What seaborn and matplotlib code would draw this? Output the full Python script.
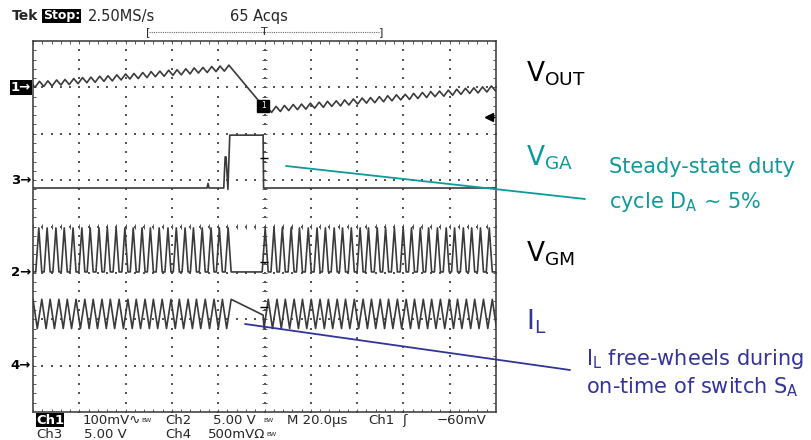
import numpy as np
import pandas as pd
import matplotlib
matplotlib.use("Agg")
import matplotlib.pyplot as plt
from matplotlib.lines import Line2D
import seaborn as sns

# ═══════════════════════════════════════════════════════════════
#  DATA  (time in divisions, 20 us/div; level in divisions, 0..8)
# ═══════════════════════════════════════════════════════════════
IL_PEAKS_A = [0.00, 0.19, 0.37, 0.56, 0.74, 0.93, 1.12, 1.30, 1.49, 1.67,
              1.86, 2.05, 2.23, 2.42, 2.60, 2.79, 2.98, 3.16, 3.35, 3.53,
              3.72, 3.91, 4.09, 4.28]
IL_PEAKS_B = [5.08, 5.27, 5.45, 5.64, 5.82, 6.01, 6.20, 6.38, 6.57, 6.75,
              6.94, 7.13, 7.31, 7.50, 7.68, 7.87, 8.06, 8.24, 8.43, 8.61,
              8.80, 8.99, 9.17, 9.36, 9.54, 9.73, 9.92]
IL_HI, IL_LO = 2.43, 1.80
IL_FREEWHEEL_T = [4.97, 4.99]
IL_FREEWHEEL_V = [2.09, 1.80]

VGM_HI, VGM_LO = 3.97, 3.02

VOUT_PEAKS_A = [7.11, 7.13, 7.14, 7.16, 7.17, 7.19, 7.21, 7.22, 7.24, 7.25,
                7.27, 7.29, 7.30, 7.32, 7.34, 7.35, 7.37, 7.38, 7.40, 7.42,
                7.43, 7.45, 7.46, 7.48]
VOUT_PEAKS_B = [6.57, 6.59, 6.61, 6.63, 6.64, 6.66, 6.68, 6.70, 6.71, 6.73,
                6.75, 6.77, 6.78, 6.80, 6.82, 6.84, 6.85, 6.87, 6.89, 6.91,
                6.92, 6.94, 6.96, 6.98, 6.99, 7.01, 7.03]
VOUT_RIPPLE = 0.11
VOUT_DROP_T = [4.95, 5.00]
VOUT_DROP_V = [6.62, 6.47]

VGA_T = [0.00, 3.76, 3.78, 3.80, 4.12, 4.15, 4.17, 4.21, 4.25, 4.97, 4.98, 10.0]
VGA_V = [4.83, 4.83, 4.93, 4.83, 4.83, 5.50, 5.50, 4.80, 5.97, 5.97, 4.83, 4.83]

CH_REF = {"1": 7.0, "3": 5.0, "2": 3.0, "4": 1.0}

TEAL = "#0f9a9a"
NAVY = "#33339a"
TRACE = "#3a3a3a"


def build_il():
    t, v = [], []
    for p in IL_PEAKS_A:
        t += [p, p + 0.093]
        v += [IL_HI, IL_LO]
    t, v = t[:-1], v[:-1]
    t += IL_FREEWHEEL_T
    v += IL_FREEWHEEL_V
    for p in IL_PEAKS_B:
        t += [p, p + 0.093]
        v += [IL_HI, IL_LO]
    return t, v


def build_vgm():
    t, v = [0.0], [VGM_LO]
    for p in IL_PEAKS_A + IL_PEAKS_B:
        t += [p - 0.13, p - 0.065, p]
        v += [VGM_LO, VGM_HI, VGM_LO]
    t.append(10.0)
    v.append(VGM_LO)
    return t, v


def build_vout():
    t, v = [], []
    for p, pk in zip(IL_PEAKS_A, VOUT_PEAKS_A):
        t += [p - 0.05, p + 0.043]
        v += [pk, pk - VOUT_RIPPLE]
    t, v = t[:-1], v[:-1]
    t += VOUT_DROP_T
    v += VOUT_DROP_V
    for p, pk in zip(IL_PEAKS_B, VOUT_PEAKS_B):
        t += [p - 0.02, p + 0.073]
        v += [pk, pk - VOUT_RIPPLE]
    return t, v


traces = []
for name, (t, v) in {"VOUT": build_vout(), "VGA": (VGA_T, VGA_V),
                     "VGM": build_vgm(), "IL": build_il()}.items():
    traces.append(pd.DataFrame({"t": t, "v": v, "ch": name}))
df = pd.concat(traces, ignore_index=True)

# ═══════════════════════════════════════════════════════════════
#  FIGURE
# ═══════════════════════════════════════════════════════════════
sns.set_theme(style="white")
plt.rcParams["font.family"] = ["DejaVu Sans"]
plt.rcParams["mathtext.fontset"] = "dejavusans"

W, H = 812, 440
fig = plt.figure(figsize=(W / 100, H / 100), dpi=100)
fig.patch.set_facecolor("white")
ax = fig.add_axes([33 / W, 1 - 412 / H, 463 / W, 371 / H])
ax.set_xlim(0, 10)
ax.set_ylim(0, 8)

# graticule
minor = np.arange(0, 10.01, 0.2)
minor_y = np.arange(0, 8.01, 0.2)
for i in range(1, 10):
    ax.scatter(np.full_like(minor_y, i), minor_y, s=1.2, marker="s",
               color="#555555", linewidths=0, zorder=1)
for j in range(1, 8):
    ax.scatter(minor, np.full_like(minor, j), s=1.2, marker="s",
               color="#555555", linewidths=0, zorder=1)
ax.hlines(minor_y, 4.95, 5.05, color="#555555", lw=0.7, zorder=1)
ax.vlines(minor, 3.95, 4.05, color="#555555", lw=0.7, zorder=1)
ax.vlines(minor, 7.93, 8.0, color="#555555", lw=0.7)
ax.vlines(minor, 0.0, 0.07, color="#555555", lw=0.7)
ax.hlines(minor_y, 0.0, 0.07, color="#555555", lw=0.7)
ax.hlines(minor_y, 9.93, 10.0, color="#555555", lw=0.7)

sns.lineplot(data=df, x="t", y="v", units="ch", estimator=None, sort=False,
             color=TRACE, lw=1.2, ax=ax, legend=False, zorder=3)

ax.set_xticks([])
ax.set_yticks([])
ax.set_xlabel("")
ax.set_ylabel("")
for s in ax.spines.values():
    s.set_color("#444444")
    s.set_linewidth(1.2)

# channel markers
ytr = ax.get_yaxis_transform()
for ch, lev in CH_REF.items():
    box = dict(boxstyle="square,pad=0.1", fc="black", ec="none") if ch == "1" else None
    ax.text(-0.004, lev, ch + "\u2192", transform=ytr, ha="right", va="center",
            fontsize=9.5, fontweight="bold", color="white" if ch == "1" else "black",
            bbox=box, clip_on=False)

# trigger level arrow and trigger point
ax.plot([9.84], [6.36], marker="<", color="black", ms=6, clip_on=False)
ax.plot([9.84, 9.98], [6.36, 6.36], color="black", lw=1)
ax.plot([4.97], [6.60], marker="s", color="black", ms=9, zorder=4)
ax.text(4.97, 6.60, "1", color="white", fontsize=5.5, ha="center", va="center", zorder=5)
for lev in [5.47, 3.23, 2.26]:
    ax.hlines(lev, 4.91, 5.07, color="black", lw=1.0, zorder=4)

# header
hs = 10.5
fig.text(12 / W, 1 - 16 / H, "Tek", fontsize=10, fontweight="bold", va="center")
fig.text(43 / W, 1 - 16 / H, "Stop:", fontsize=9, fontweight="bold", va="center",
         color="white", bbox=dict(boxstyle="square,pad=0.05", fc="black", ec="none"))
fig.text(88 / W, 1 - 16 / H, "2.50MS/s", fontsize=hs, va="center")
fig.text(230 / W, 1 - 16 / H, "65 Acqs", fontsize=hs, va="center")
fig.add_artist(Line2D([149 / W, 380 / W], [1 - 32 / H, 1 - 32 / H],
                      color="#666666", lw=0.8, ls=(0, (1, 1))))
fig.text(148 / W, 1 - 32 / H, "[", fontsize=8, va="center", ha="center")
fig.text(381 / W, 1 - 32 / H, "]", fontsize=8, va="center", ha="center")
fig.text(264 / W, 1 - 32 / H, "T", fontsize=8, va="center", ha="center")

# footer
row1, row2 = 1 - 420 / H, 1 - 434 / H
fs = 9.5
fig.text(36 / W, row1, "Ch1", fontsize=fs, fontweight="bold", va="center", color="white",
         bbox=dict(boxstyle="square,pad=0.02", fc="black", ec="none"))
fig.text(83 / W, row1, "100mV\u223f", fontsize=fs, va="center")
fig.text(141 / W, row1, "BW", fontsize=4.5, va="center")
fig.text(165 / W, row1, "Ch2", fontsize=fs, va="center")
fig.text(213 / W, row1, "5.00 V", fontsize=fs, va="center")
fig.text(263 / W, row1, "BW", fontsize=4.5, va="center")
fig.text(287 / W, row1, "M 20.0\u00b5s", fontsize=fs, va="center")
fig.text(368 / W, row1, "Ch1", fontsize=fs, va="center")
fig.text(402 / W, row1, "\u0283", fontsize=fs, va="center")
fig.text(437 / W, row1, "\u221260mV", fontsize=fs, va="center")
fig.text(36 / W, row2, "Ch3", fontsize=fs, va="center")
fig.text(84 / W, row2, "5.00 V", fontsize=fs, va="center")
fig.text(165 / W, row2, "Ch4", fontsize=fs, va="center")
fig.text(208 / W, row2, "500mV\u03a9", fontsize=fs, va="center")
fig.text(266 / W, row2, "BW", fontsize=4.5, va="center")

# annotations
big = 19
fig.text(526 / W, 1 - 82 / H, r"$\mathregular{V_{OUT}}$", fontsize=big, color="black")
fig.text(526 / W, 1 - 166 / H, r"$\mathregular{V_{GA}}$", fontsize=big, color=TEAL)
fig.text(526 / W, 1 - 262 / H, r"$\mathregular{V_{GM}}$", fontsize=big, color="black")
fig.text(526 / W, 1 - 329 / H, r"$\mathregular{I_{L}}$", fontsize=big, color=NAVY)

mid = 15
fig.text(609 / W, 1 - 173 / H, "Steady-state duty", fontsize=mid, color=TEAL)
fig.text(609 / W, 1 - 208 / H, r"cycle $\mathregular{D_A}$ ~ 5%", fontsize=mid, color=TEAL)
fig.text(586 / W, 1 - 365 / H, r"$\mathregular{I_L}$ free-wheels during", fontsize=mid, color=NAVY)
fig.text(586 / W, 1 - 393 / H, r"on-time of switch $\mathregular{S_A}$", fontsize=mid, color=NAVY)

fig.add_artist(Line2D([286 / W, 585 / W], [1 - 166 / H, 1 - 199 / H], color=TEAL, lw=1.3))
fig.add_artist(Line2D([245 / W, 570 / W], [1 - 324 / H, 1 - 370 / H], color=NAVY, lw=1.3))

fig.savefig("out.png", dpi=100, facecolor="white")
